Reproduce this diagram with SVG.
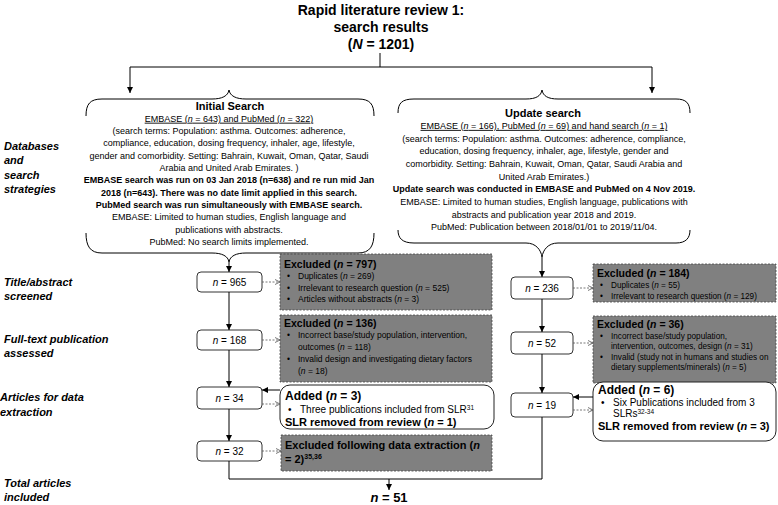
<svg xmlns="http://www.w3.org/2000/svg" width="778" height="505" viewBox="0 0 778 505">
<defs>
<marker id="ah" markerUnits="userSpaceOnUse" markerWidth="7" markerHeight="7" refX="6" refY="3" orient="auto"><path d="M0,0 L6,3 L0,6 z" fill="#000"/></marker>
<marker id="ahd" markerUnits="userSpaceOnUse" markerWidth="7" markerHeight="7" refX="5" refY="3" orient="auto"><path d="M0,0.5 L5,3 L0,5.5" fill="none" stroke="#555" stroke-width="0.8"/></marker>
<style>
text{font-family:"Liberation Sans",Arial,sans-serif;fill:#000}
.title{font-size:14px;font-weight:bold}
.lab{font-size:11px;font-weight:bold;font-style:italic}
.sh{font-size:11px;font-weight:bold}
.sb{font-size:9px}
.bold{font-weight:bold}
.gh{font-size:10.5px;font-weight:bold}
.gb{font-size:8.5px}
.gbr{font-size:8.2px}
.ah{font-size:12px;font-weight:bold}
.eh{font-size:11px;font-weight:bold}
.ab{font-size:10px}
.as{font-size:11px;font-weight:bold}
.nb{font-size:10px}
.num{fill:#fff;stroke:#333;stroke-width:1}
.grey{fill:#808080;stroke:#444;stroke-width:0.8;stroke-dasharray:2,1.5}
.add{fill:#fff;stroke:#222;stroke-width:1}
.ln{fill:none;stroke:#000;stroke-width:1}
.dl{fill:none;stroke:#555;stroke-width:0.8;stroke-dasharray:2,1.5}
.br{fill:none;stroke:#000;stroke-width:1}
.u{text-decoration:underline}
</style>
</defs>
<rect width="778" height="505" fill="#fff"/>

<g id="title">
<text class="title" x="381" y="15" text-anchor="middle">Rapid literature review 1:</text>
<text class="title" x="381" y="32" text-anchor="middle">search results</text>
<text class="title" x="381" y="49" text-anchor="middle">(<tspan font-style="italic">N</tspan> = 1201)</text>
</g>

<g id="labels">
<text class="lab" x="4" y="150">Databases</text>
<text class="lab" x="4" y="164">and</text>
<text class="lab" x="4" y="179">search</text>
<text class="lab" x="4" y="193">strategies</text>
<text class="lab" x="4" y="286">Title/abstract</text>
<text class="lab" x="4" y="300">screened</text>
<text class="lab" x="4" y="343">Full-text publication</text>
<text class="lab" x="4" y="357">assessed</text>
<text class="lab" x="0" y="401">Articles for data</text>
<text class="lab" x="0" y="416">extraction</text>
<text class="lab" x="4" y="487">Total articles</text>
<text class="lab" x="4" y="501">included</text>
</g>

<g id="initial-search">
<path class="br" d="M86,116 C86,104 90,99 102,99 L212,99 C222,99 228,96 229,90 C230,96 236,99 246,99 L358,99 C370,99 374,104 374,116"/>
<path class="br" d="M86,233 C86,246 90,253 102,253 L212,253 C222,253 228,256 229,262 C230,256 236,253 246,253 L358,253 C370,253 374,246 374,233"/>
<g text-anchor="middle">
<text class="sh" x="230" y="110">Initial Search</text>
<text class="sb u" x="229" y="121.7">EMBASE (<tspan font-style="italic">n</tspan> = 643) and PubMed (<tspan font-style="italic">n</tspan> = 322)</text>
<text class="sb" x="229" y="134.2">(search terms:  Population: asthma. Outcomes: adherence,</text>
<text class="sb" x="229" y="146.2">compliance, education, dosing frequency, inhaler, age, lifestyle,</text>
<text class="sb" x="229" y="158.7">gender and comorbidity. Setting: Bahrain, Kuwait, Oman, Qatar, Saudi</text>
<text class="sb" x="229" y="171.2">Arabia and United Arab Emirates. )</text>
<text class="sb bold" x="229" y="183.2">EMBASE search was run on 03 Jan 2018 (n=638) and re run mid Jan</text>
<text class="sb bold" x="229" y="195.7">2018 (n=643). There was no date limit applied in this search.</text>
<text class="sb bold" x="229" y="208.2">PubMed search was run simultaneously with EMBASE search.</text>
<text class="sb" x="229" y="220.2">EMBASE: Limited to human studies, English language and</text>
<text class="sb" x="229" y="232.7">publications with abstracts.</text>
<text class="sb" x="229" y="245.2">PubMed: No search limits implemented.</text>
</g>
</g>

<g id="update-search">
<path class="br" d="M398,113 C398,103 402,99 414,99 L526,99 C536,99 541,96 542,90 C543,96 548,99 558,99 L676,99 C686,99 690,103 690,113"/>
<path class="br" d="M398,230 C398,238 402,243 414,243 L526,243 C536,243 541,250 542,257 C543,250 548,243 558,243 L676,243 C686,243 690,238 690,230"/>
<g text-anchor="middle">
<text class="sh" x="543" y="117">Update search</text>
<text class="sb u" x="544" y="128.9">EMBASE (<tspan font-style="italic">n</tspan> = 166), PubMed (<tspan font-style="italic">n</tspan> = 69) and hand search (<tspan font-style="italic">n</tspan> = 1)</text>
<text class="sb" x="544" y="141.5">(search terms:  Population: asthma. Outcomes: adherence, compliance,</text>
<text class="sb" x="544" y="154.2">education, dosing frequency, inhaler, age, lifestyle, gender and</text>
<text class="sb" x="544" y="166.9">comorbidity. Setting: Bahrain, Kuwait, Oman, Qatar, Saudi Arabia and</text>
<text class="sb" x="544" y="179.5">United Arab Emirates.)</text>
<text class="sb bold" x="544" y="192.2">Update search was conducted in EMBASE and PubMed on 4 Nov 2019.</text>
<text class="sb" x="544" y="204.9">EMBASE: Limited to human studies, English language, publications with</text>
<text class="sb" x="544" y="217.5">abstracts and publication year 2018 and 2019.</text>
<text class="sb" x="544" y="230.2">PubMed: Publication between 2018/01/01 to 2019/11/04.</text>
</g>
</g>

<g id="n965"><rect class="num" x="197" y="272" width="65" height="20" rx="4"/><text class="nb" x="229.5" y="285.5" text-anchor="middle"><tspan font-style="italic">n</tspan> = 965</text></g>
<g id="n168"><rect class="num" x="197" y="330" width="65" height="20" rx="4"/><text class="nb" x="229.5" y="343.5" text-anchor="middle"><tspan font-style="italic">n</tspan> = 168</text></g>
<g id="n34"><rect class="num" x="197" y="387" width="65" height="22" rx="4"/><text class="nb" x="229.5" y="401.5" text-anchor="middle"><tspan font-style="italic">n</tspan> = 34</text></g>
<g id="n32"><rect class="num" x="197" y="441" width="65" height="20" rx="4"/><text class="nb" x="229.5" y="454.5" text-anchor="middle"><tspan font-style="italic">n</tspan> = 32</text></g>

<g id="n236"><rect class="num" x="511" y="277" width="62" height="22" rx="4"/><text class="nb" x="542" y="291.5" text-anchor="middle"><tspan font-style="italic">n</tspan> = 236</text></g>
<g id="n52"><rect class="num" x="511" y="332" width="62" height="22" rx="4"/><text class="nb" x="542" y="346.5" text-anchor="middle"><tspan font-style="italic">n</tspan> = 52</text></g>
<g id="n19"><rect class="num" x="511" y="393" width="62" height="24" rx="4"/><text class="nb" x="542" y="408.5" text-anchor="middle"><tspan font-style="italic">n</tspan> = 19</text></g>

<g id="excluded-797">
<rect class="grey" x="280" y="254" width="212" height="56"/>
<text class="gh" x="284" y="267.5">Excluded (<tspan font-style="italic">n</tspan> = 797)</text>
<text class="gb" x="287" y="279">•</text><text class="gb" x="298" y="279">Duplicates (<tspan font-style="italic">n</tspan> = 269)</text>
<text class="gb" x="287" y="291">•</text><text class="gb" x="298" y="291">Irrelevant to research question (<tspan font-style="italic">n</tspan> = 525)</text>
<text class="gb" x="287" y="302">•</text><text class="gb" x="298" y="302">Articles without abstracts (<tspan font-style="italic">n</tspan> = 3)</text>
</g>

<g id="excluded-136">
<rect class="grey" x="280" y="315" width="212" height="67"/>
<text class="gh" x="284" y="326.5">Excluded (<tspan font-style="italic">n</tspan> = 136)</text>
<text class="gb" x="287" y="338">•</text><text class="gb" x="298" y="338">Incorrect base/study population, intervention,</text>
<text class="gb" x="298" y="350">outcomes (<tspan font-style="italic">n</tspan> = 118)</text>
<text class="gb" x="287" y="362">•</text><text class="gb" x="298" y="362">Invalid design and investigating dietary factors</text>
<text class="gb" x="298" y="374">(<tspan font-style="italic">n</tspan> = 18)</text>
</g>

<g id="added-3">
<rect class="add" x="280" y="385" width="214" height="44" rx="10"/>
<text class="ah" x="285" y="400">Added (<tspan font-style="italic">n</tspan> = 3)</text>
<text class="ab" x="288" y="413">•</text><text class="ab" x="300" y="413">Three publications included from SLR<tspan dy="-3.5" font-size="6.5">31</tspan></text>
<text class="as" x="285" y="425.5">SLR removed from review (<tspan font-style="italic">n</tspan> = 1)</text>
</g>

<g id="excluded-extraction">
<rect class="grey" x="281" y="435" width="211" height="36"/>
<text class="eh" x="285" y="449">Excluded following data extraction (<tspan font-style="italic">n</tspan></text>
<text class="eh" x="285" y="463">= 2)<tspan dy="-4" font-size="7">35,36</tspan></text>
</g>

<g id="excluded-184">
<rect class="grey" x="593" y="264" width="183" height="38"/>
<text class="gh" x="597" y="276.5">Excluded (<tspan font-style="italic">n</tspan> = 184)</text>
<text class="gbr" x="600" y="288">•</text><text class="gbr" x="611" y="288">Duplicates (<tspan font-style="italic">n</tspan> = 55)</text>
<text class="gbr" x="600" y="299">•</text><text class="gbr" x="611" y="299">Irrelevant to research question (<tspan font-style="italic">n</tspan> = 129)</text>
</g>

<g id="excluded-36">
<rect class="grey" x="593" y="316" width="183" height="67"/>
<text class="gh" x="597" y="328">Excluded (<tspan font-style="italic">n</tspan> = 36)</text>
<text class="gbr" x="600" y="338.5">•</text><text class="gbr" x="611" y="338.5">Incorrect base/study population,</text>
<text class="gbr" x="611" y="349">intervention, outcomes, design (<tspan font-style="italic">n</tspan> = 31)</text>
<text class="gbr" x="600" y="359.5">•</text><text class="gbr" x="611" y="359.5">Invalid (study not in humans and studies on</text>
<text class="gbr" x="611" y="370">dietary supplements/minerals) (<tspan font-style="italic">n</tspan> = 5)</text>
</g>

<g id="added-6">
<rect class="add" x="593" y="382" width="183" height="59" rx="10"/>
<text class="ah" x="598" y="394">Added (<tspan font-style="italic">n</tspan> = 6)</text>
<text class="ab" x="601" y="405.5">•</text><text class="ab" x="613" y="405.5">Six Publications included from 3</text>
<text class="ab" x="613" y="417">SLRs<tspan dy="-3.5" font-size="6.5">32-34</tspan></text>
<text class="as" x="598" y="430">SLR removed from review (<tspan font-style="italic">n</tspan> = 3)</text>
</g>

<g id="total">
<text x="389" y="502" text-anchor="middle" font-size="13" font-weight="bold"><tspan font-style="italic">n</tspan> = 51</text>
</g>

<g id="connectors">
<path class="ln" d="M380,53 V67 M130,67 H652"/>
<path class="ln" d="M130,67 V93" marker-end="url(#ah)"/>
<path class="ln" d="M652,67 V93" marker-end="url(#ah)"/>
<path class="ln" d="M229,262 V272" marker-end="url(#ah)"/>
<path class="ln" d="M542,257 V277" marker-end="url(#ah)"/>
<path class="ln" d="M229,292 V330" marker-end="url(#ah)"/>
<path class="ln" d="M229,350 V387" marker-end="url(#ah)"/>
<path class="ln" d="M229,409 V441" marker-end="url(#ah)"/>
<path class="ln" d="M542,299 V332" marker-end="url(#ah)"/>
<path class="ln" d="M542,354 V393" marker-end="url(#ah)"/>
<path class="ln" d="M280,390 H262" marker-end="url(#ah)"/>
<path class="ln" d="M593,397 H573" marker-end="url(#ah)"/>
<path class="dl" d="M262,282 H280" marker-end="url(#ahd)"/>
<path class="dl" d="M262,340 H280" marker-end="url(#ahd)"/>
<path class="dl" d="M262,404 H280" marker-end="url(#ahd)"/>
<path class="dl" d="M262,451 H281" marker-end="url(#ahd)"/>
<path class="dl" d="M573,288 H593" marker-end="url(#ahd)"/>
<path class="dl" d="M573,343 H593" marker-end="url(#ahd)"/>
<path class="dl" d="M573,410 H593" marker-end="url(#ahd)"/>
<path class="ln" d="M229,461 V479 H542 V417"/>
<path class="ln" d="M389,479 V490" marker-end="url(#ah)"/>
</g>
</svg>
